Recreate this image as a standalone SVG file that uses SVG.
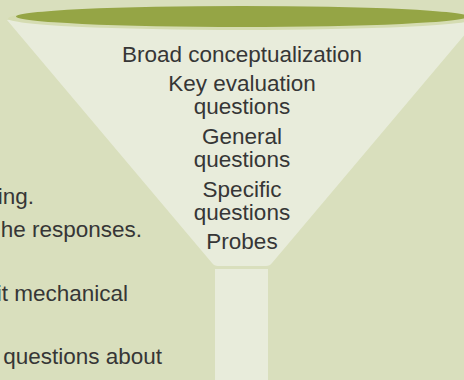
<svg xmlns="http://www.w3.org/2000/svg" width="464" height="380" viewBox="0 0 464 380">
<style>
text{font-family:"Liberation Sans",Arial,sans-serif;font-size:22.5px;fill:#363636}
.c{text-anchor:middle}
.e{text-anchor:end}
</style>
<rect width="464" height="380" fill="#d9dfbd"/>
<g id="funnel">
<path d="M7,20 L477,20 L283,250 L272,263 Q270,266 266,266 L218,266 Q214,266 212,263 L201,250 Z" fill="#e8ecdb"/>
<rect x="215" y="269" width="53" height="111" fill="#e8ecdb"/>
<ellipse cx="242" cy="18.5" rx="234" ry="11.5" fill="#d5dcb2"/>
<ellipse cx="242" cy="16.5" rx="226" ry="10.5" fill="#95a545"/>
</g>
<g id="funnel-text">
<text class="c" x="242" y="62">Broad conceptualization</text>
<text class="c" x="242" y="91">Key evaluation</text>
<text class="c" x="242" y="114">questions</text>
<text class="c" x="242" y="144">General</text>
<text class="c" x="242" y="167">questions</text>
<text class="c" x="242" y="197">Specific</text>
<text class="c" x="242" y="220">questions</text>
<text class="c" x="242" y="249">Probes</text>
</g>
<g id="left-text">
<text class="e" x="34" y="204">ing.</text>
<text class="e" x="142" y="237">he responses.</text>
<text class="e" x="128" y="301">it mechanical</text>
<text class="e" x="162" y="364">questions about</text>
</g>
</svg>
